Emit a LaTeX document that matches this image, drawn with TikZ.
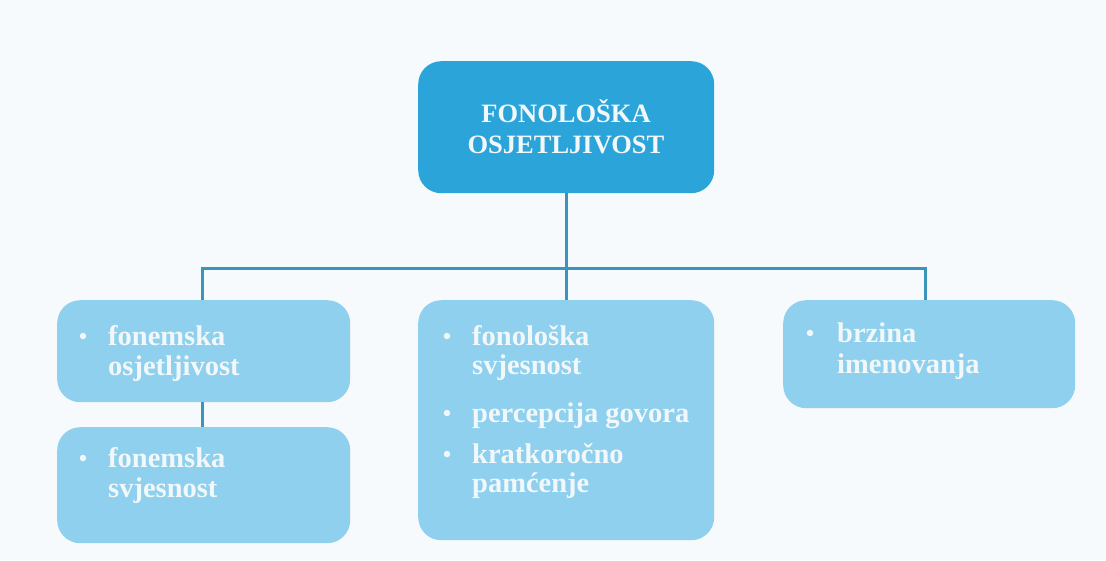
\documentclass[tikz,border=0pt]{standalone}
\usepackage{fontspec}
\setmainfont{Liberation Serif}
\definecolor{bg}{HTML}{F7FAFC}
\definecolor{topblue}{HTML}{2BA5D9}
\definecolor{childblue}{HTML}{8ED0EE}
\definecolor{linecol}{HTML}{3A95BA}
\definecolor{txt}{HTML}{F2F8FA}
\begin{document}
\begin{tikzpicture}[x=1pt,y=-1pt,
  box/.style={rounded corners=23pt, inner sep=0pt, anchor=north west},
  topbox/.style={box, fill=topblue},
  childbox/.style={box, fill=childblue},
  conn/.style={draw=linecol, line width=3pt},
  toptxt/.style={font=\fontsize{26.5}{30}\selectfont\bfseries, text=txt, inner sep=0pt, anchor=base},
  itemtxt/.style={font=\fontsize{28.5}{30}\selectfont\bfseries, text=txt, inner sep=0pt, anchor=base west},
  dot/.style={circle, fill=txt, inner sep=0pt, minimum size=6.5pt}
]
\useasboundingbox (0,0) rectangle (1106,560);
\fill[bg] (0,0) rectangle (1106,560);

\node[topbox, minimum width=296pt, minimum height=132pt] (top) at (418,61) {};
\node[childbox, minimum width=293pt, minimum height=102pt] (L1) at (57,300) {};
\node[childbox, minimum width=293pt, minimum height=116pt] (L2) at (57,427) {};
\node[childbox, minimum width=296pt, minimum height=240pt] (M) at (418,300) {};
\node[childbox, minimum width=292pt, minimum height=108pt] (R) at (783,300) {};

\coordinate (hj) at (top.south |- 0,268);
\coordinate (hl) at (202,268);
\coordinate (hr) at (925,268);
\draw[conn] (top.south) -- (hj);
\draw[conn, line cap=rect] (hl) -- (hr);
\draw[conn] (hl) -- (hl |- L1.north);
\draw[conn] (hj) -- (M.north);
\draw[conn] (hr) -- (hr |- R.north);
\draw[conn] (L1.south -| hl) -- (L2.north -| hl);

% top text
\node[toptxt] (t1) at (566,122) {FONOLOŠKA};
\node[toptxt] (t2) at (566,153) {OSJETLJIVOST};

% left box 1
\node[dot] (b1) at (83,336) {};
\node[itemtxt] (l1a) at (108,345) {fonemska};
\node[itemtxt] (l1b) at (108,375) {osjetljivost};
% left box 2
\node[dot] (b2) at (83,458) {};
\node[itemtxt] (l2a) at (108,467) {fonemska};
\node[itemtxt] (l2b) at (108,497) {svjesnost};
% middle
\node[dot] (b3) at (447,336) {};
\node[itemtxt] (m1a) at (472,345) {fonološka};
\node[itemtxt] (m1b) at (472,374) {svjesnost};
\node[dot] (b4) at (447,413) {};
\node[itemtxt] (m2) at (472,422) {percepcija govora};
\node[dot] (b5) at (447,454) {};
\node[itemtxt] (m3a) at (472,463) {kratkoročno};
\node[itemtxt] (m3b) at (472,492) {pamćenje};
% right
\node[dot] (b6) at (810,333) {};
\node[itemtxt] (r1a) at (837,342) {brzina};
\node[itemtxt] (r1b) at (837,373) {imenovanja};
\end{tikzpicture}
\end{document}
